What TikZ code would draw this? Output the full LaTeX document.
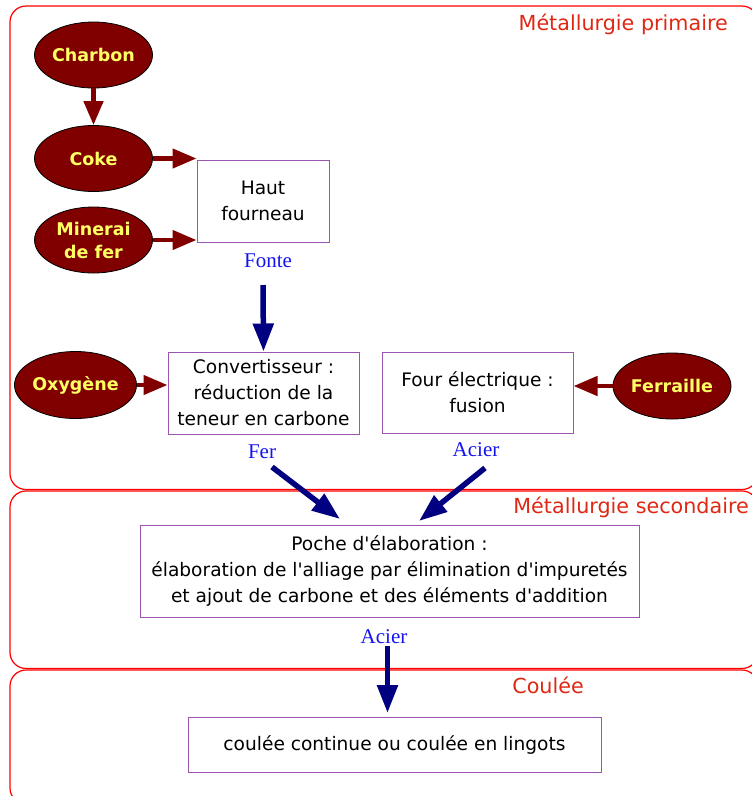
\documentclass[tikz,border=0pt]{standalone}
\usepackage{fontspec}
\setmainfont{DejaVu Sans}[Ligatures=TeXOff]
\newfontfamily\lblfont{Liberation Serif}
\usetikzlibrary{shapes.geometric,arrows.meta}
\definecolor{maroonc}{RGB}{128,0,0}
\definecolor{yel}{RGB}{255,255,100}
\definecolor{navyc}{RGB}{0,0,128}
\definecolor{boxc}{RGB}{155,85,175}
\definecolor{framec}{RGB}{255,0,0}
\definecolor{regtxt}{RGB}{222,40,20}
\definecolor{lblc}{RGB}{20,20,240}
\begin{document}
\begin{tikzpicture}[x=1pt,y=-1pt,
  raw/.style={ellipse, draw=black, line width=0.8pt, fill=maroonc, text=yel,
    font=\fontsize{17.5}{23}\selectfont\bfseries, align=center,
    minimum width=118pt, minimum height=66pt, inner sep=0pt},
  proc/.style={draw=boxc, line width=1pt, font=\fontsize{18.6}{26}\selectfont,
    align=center, inner sep=0pt},
  lab/.style={text=lblc, font=\lblfont\fontsize{21}{24}\selectfont, inner sep=0pt},
  region/.style={text=regtxt, font=\fontsize{20.7}{24}\selectfont, inner sep=0pt, anchor=base east},
  frm/.style={draw=framec, line width=1.2pt, rounded corners=16pt},
  rarr/.style={draw=maroonc, line width=4.5pt, -{Triangle[length=24pt,width=19pt]}},
  barr/.style={draw=navyc, line width=5.5pt, -{Triangle[length=28pt,width=20pt]}},
]
\useasboundingbox (0,0) rectangle (752,796);
\begin{scope}
\clip (0,0) rectangle (752,796);
\draw[frm] (10,6) rectangle (758,489.5);
\draw[frm] (10,491) rectangle (758,668.5);
\draw[frm] (10,670) rectangle (758,804);
\end{scope}

% region titles
\node[region] (t1) at (728,30) {Métallurgie primaire};
\node[region] (t2) at (749,513) {Métallurgie secondaire};
\node[region] (t3) at (584,693) {Coulée};

% raw materials
\node[raw] (charbon) at (93.5,55) {Charbon};
\node[raw] (coke) at (93.5,158.5) {Coke};
\node[raw] (minerai) at (93.5,240) {Minerai\\de fer};
\node[raw, minimum width=119pt, minimum height=67pt] (oxy) at (75.5,385) {Oxygène};
\node[raw] (ferr) at (672,386) {Ferraille};

% process boxes
\node[proc, minimum width=132pt, minimum height=82pt] (hf) at (263,201) {Haut\\fourneau};
\node[proc, minimum width=191pt, minimum height=82pt] (conv) at (263.5,393) {Convertisseur :\\réduction de la\\teneur en carbone};
\node[proc, minimum width=191pt, minimum height=81pt] (four) at (477.5,392.5) {Four électrique :\\fusion};
\node[proc, minimum width=499pt, minimum height=92pt] (poche) at (389.5,571) {Poche d'élaboration :\\élaboration de l'alliage par élimination d'impuretés\\et ajout de carbone et des éléments d'addition};
\node[proc, minimum width=413pt, minimum height=55pt] (coul) at (394.5,744.5) {coulée continue ou coulée en lingots};

% product labels
\node[lab] (fonte) at (268,261) {Fonte};
\node[lab] (fer) at (262,452) {Fer};
\node[lab] (acier1) at (476,450) {Acier};
\node[lab] (acier2) at (384,637) {Acier};

% maroon arrows
\draw[rarr] (charbon) -- (coke);
\draw[rarr] (coke) -- (coke -| hf.west);
\draw[rarr] (minerai) -- (minerai -| hf.west);
\draw[rarr] (oxy) -- (oxy -| conv.west);
\draw[rarr] (ferr) -- (ferr -| four.east);

% navy arrows
\coordinate (fonteS) at (263,285);
\draw[barr] (fonteS) -- (conv.north);
\coordinate (ferS) at (272,467);
\coordinate (ferE) at (340,519);
\draw[barr] (ferS) -- (ferE);
\coordinate (acS) at (485,468);
\coordinate (acE) at (419,521);
\draw[barr] (acS) -- (acE);
\coordinate (ac2S) at (387.5,646);
\coordinate (ac2E) at (387.5,713);
\draw[barr] (ac2S) -- (ac2E);
\end{tikzpicture}
\end{document}
